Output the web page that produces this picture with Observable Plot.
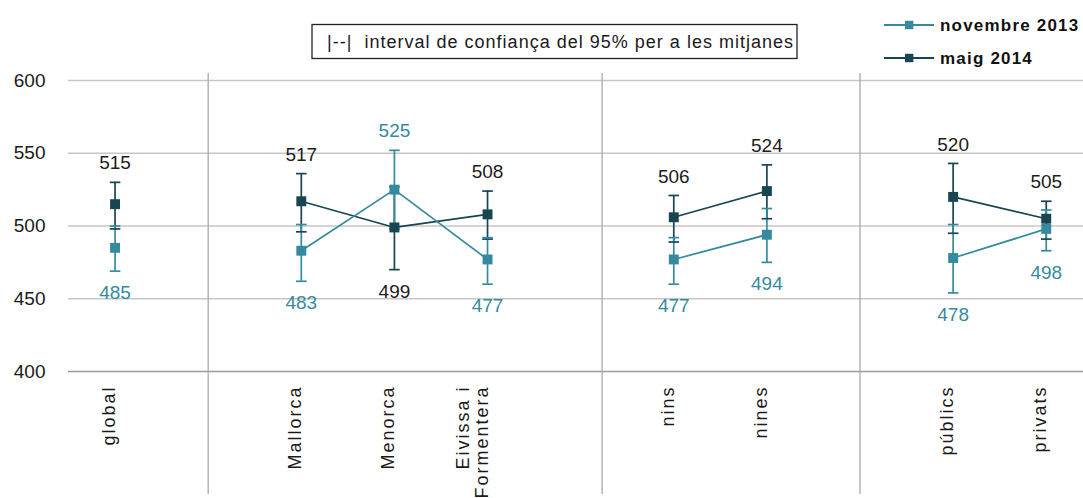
<!DOCTYPE html>
<html><head><meta charset="utf-8">
<script src="https://cdn.jsdelivr.net/npm/d3@7"></script>
<script src="https://cdn.jsdelivr.net/npm/@observablehq/plot@0.6"></script>
<style>
body{margin:0;background:#fff;}
#chart svg{font-family:"Liberation Sans",Arial,sans-serif;overflow:visible;}
.catlab text{letter-spacing:2px;}
</style>
</head><body><div id="chart"></div>
<script>
// ---- data ----
const categories = ["global","Mallorca","Menorca","Eivissa i\nFormentera","nins","nines","públics","privats"];
const slots = [0,2,3,4,6,7,9,10];
const groups = ["global","illa","illa","illa","sexe","sexe","centre","centre"];
const separators = [1, 5.23, 8];
const seriesNames = ["novembre 2013","maig 2014"];
const nov2013   = [485,483,525,477,477,494,478,498];
const nov2013Lo = [469,462,498,460,460,475,454,483];
const nov2013Hi = [500,501,552,492,492,512,501,511];
const maig2014   = [515,517,499,508,506,524,520,505];
const maig2014Lo = [498,496,470,491,489,505,495,491];
const maig2014Hi = [530,536,527,524,521,542,543,517];
const side2013 = ["below","below","above","below","below","below","below","below"];
const side2014 = ["above","above","below","above","above","above","above","above"];
const yTicks = [400,450,500,550,600];
const ciNote = "|--|  interval de confiança del 95% per a les mitjanes";

const teal = "#358a9f", dark = "#184552", darkText = "#1c1c1c";

function build(series, vals, lo, hi, side){
  return categories.map((c,i)=>({series, name:c, slot:slots[i], group:groups[i],
    value:vals[i], lo:lo[i], hi:hi[i], side:side[i]}));
}
const rows2014 = build(seriesNames[1], maig2014, maig2014Lo, maig2014Hi, side2014);
const rows2013 = build(seriesNames[0], nov2013, nov2013Lo, nov2013Hi, side2013);
const rows = [...rows2014, ...rows2013];

const cap = {draw(ctx, size){ const h = Math.sqrt(size/Math.PI); ctx.moveTo(-h,0); ctx.lineTo(h,0); }};
const fnt = 19;

const chart = Plot.plot({
  width: 1083, height: 498,
  marginTop: 80, marginBottom: 127, marginLeft: 68, marginRight: 0,
  x: {domain: [-0.5, 10.4], axis: null},
  y: {domain: [400, 600]},
  color: {domain: seriesNames, range: [teal, dark]},
  marks: [
    Plot.ruleY(yTicks.filter(t=>t>400), {stroke:"#c6c6c6", strokeWidth:1.3}),
    Plot.ruleY([400], {stroke:"#9a9a9a", strokeWidth:1.6}),
    Plot.ruleX(separators, {stroke:"#a8a8a8", strokeWidth:1.3, insetTop:-7, insetBottom:-123}),
    Plot.axisY(yTicks, {tickSize:0, tickPadding:23, fontSize:fnt, fill:"#1a1a1a"}),
    Plot.ruleX(rows, {x:"slot", y1:"lo", y2:"hi", stroke:"series", strokeWidth:1.7}),
    Plot.dot(rows, {x:"slot", y:"lo", symbol:cap, r:5.3, stroke:"series", strokeWidth:1.7}),
    Plot.dot(rows, {x:"slot", y:"hi", symbol:cap, r:5.3, stroke:"series", strokeWidth:1.7}),
    Plot.line(rows, {x:"slot", y:"value", z:d=>d.series+d.group, stroke:"series", strokeWidth:1.7}),
    Plot.dot(rows, {x:"slot", y:"value", symbol:"square", r:5.6, fill:"series"}),
    Plot.text(rows2014.filter(d=>d.side==="above"), {x:"slot", y:"hi", text:d=>String(d.value), dy:-19, fontSize:fnt, fill:darkText}),
    Plot.text(rows2014.filter(d=>d.side==="below"), {x:"slot", y:"lo", text:d=>String(d.value), dy:22, fontSize:fnt, fill:darkText}),
    Plot.text(rows2013.filter(d=>d.side==="above"), {x:"slot", y:"hi", text:d=>String(d.value), dy:-19, fontSize:fnt, fill:teal}),
    Plot.text(rows2013.filter(d=>d.side==="below"), {x:"slot", y:"lo", text:d=>String(d.value), dy:22, fontSize:fnt, fill:teal}),
    Plot.text(rows2013, {x:"slot", text:"name", frameAnchor:"bottom", rotate:-90, textAnchor:"end", dy:14, fontSize:18, lineHeight:1.05, fill:"#1a1a1a", className:"catlab"})
  ]
});
document.getElementById("chart").appendChild(chart);

const svg = d3.select(chart);
svg.selectAll(".catlab text, .catlab tspan").style("letter-spacing","2px");

// CI note box and legend inside the top margin
const note = svg.append("g").attr("text-anchor","start");
note.append("rect").attr("x",312).attr("y",24.5).attr("width",485).attr("height",34)
  .attr("fill","#fff").attr("stroke","#222").attr("stroke-width",1.3);
note.append("text").attr("x",327).attr("y",48).attr("font-size",18).attr("fill","#1a1a1a")
  .attr("text-anchor","start")
  .attr("textLength",466).attr("lengthAdjust","spacing").text(ciNote);

const leg = svg.append("g").attr("text-anchor","start");
[[seriesNames[0], teal, 25],[seriesNames[1], dark, 58]].forEach(([name,col,y])=>{
  leg.append("line").attr("x1",884).attr("x2",934).attr("y1",y).attr("y2",y).attr("stroke",col).attr("stroke-width",1.8);
  leg.append("rect").attr("x",905).attr("y",y-4.2).attr("width",8.4).attr("height",8.4).attr("fill",col);
  leg.append("text").attr("x",940).attr("y",y+6).attr("font-size",17).attr("font-weight","bold")
    .attr("text-anchor","start")
    .attr("fill","#111").style("letter-spacing","1.2px").text(name);
});
</script>
</body></html>
